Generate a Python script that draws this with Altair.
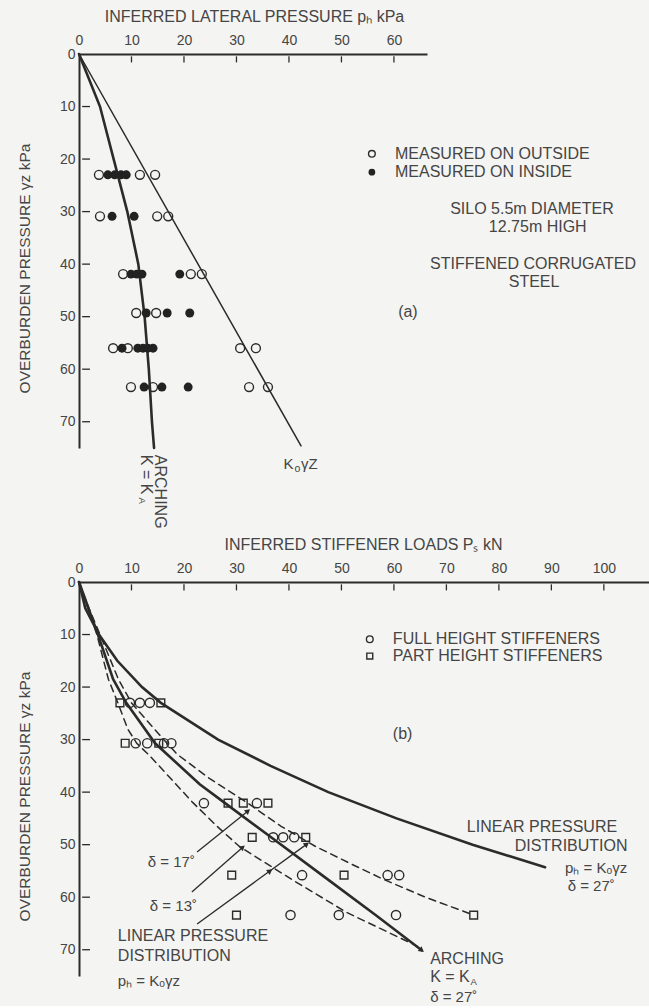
import math
import altair as alt
import pandas as pd

FONT = "Liberation Sans"
INK = "#2b2b2b"
TXT = "#454545"
BG = "#f4f4f2"

# ---------------- Panel (a): inferred lateral pressure ----------------
a_x_ticks = [0, 10, 20, 30, 40, 50, 60]
a_y_ticks = [0, 10, 20, 30, 40, 50, 60, 70]

a_out_z = [23, 23, 23, 30.9, 30.9, 30.9, 41.9, 41.9, 41.9, 49.3, 49.3,
           56, 56, 56, 56, 63.4, 63.4, 63.4, 63.4]
a_out_p = [3.8, 11.6, 14.5, 4.0, 14.9, 17.0, 8.4, 21.3, 23.4, 10.9, 14.7,
           6.5, 9.3, 30.7, 33.7, 9.9, 14.1, 32.4, 36.0]

a_in_z = [23, 23, 23, 23, 30.9, 30.9, 41.9, 41.9, 41.9, 41.9, 49.3, 49.3, 49.3,
          56, 56, 56, 56, 56, 63.4, 63.4, 63.4]
a_in_p = [5.5, 6.8, 8.0, 9.0, 6.3, 10.5, 9.9, 11.0, 12.0, 19.2, 12.8, 16.8, 21.1,
          8.2, 11.2, 12.2, 13.1, 14.1, 12.4, 15.8, 20.8]

a_ko_z = [0, 74.6]
a_ko_p = [0, 42.3]

a_arch_z = [0, 10, 20, 30, 40, 50, 60, 70, 75]
a_arch_p = [0, 4.0, 6.6, 9.2, 11.3, 12.5, 13.3, 13.9, 14.3]

# ---------------- Panel (b): inferred stiffener loads ----------------
b_x_ticks = [0, 10, 20, 30, 40, 50, 60, 70, 80, 90, 100]
b_y_ticks = [0, 10, 20, 30, 40, 50, 60, 70]

b_full_z = [23, 23, 23, 30.7, 30.7, 30.7, 30.7, 42.1, 42.1, 48.6, 48.6, 48.6,
            55.8, 55.8, 55.8, 63.4, 63.4, 63.4]
b_full_p = [9.7, 11.6, 13.5, 10.8, 13.0, 16.2, 17.6, 23.8, 33.9, 37.0, 38.9, 41.0,
            42.5, 58.8, 61.0, 40.3, 49.5, 60.4]

b_part_z = [23, 23, 30.7, 30.7, 42.1, 42.1, 42.1, 48.6, 48.6, 55.8, 55.8, 63.4, 63.4]
b_part_p = [7.8, 15.6, 8.8, 15.2, 28.4, 31.3, 36.0, 33.0, 43.2, 29.1, 50.5, 30.0, 75.2]

b_lin_z = [0, 5, 10, 15, 20, 23, 30, 35, 40, 45, 50, 54.3]
b_lin_p = [0, 1.2, 3.8, 7.3, 12.0, 15.6, 26.5, 36.5, 47.5, 60.5, 75.0, 88.8]

b_arch_z = [0, 5, 10, 18.5, 23, 30.7, 38.5, 42, 48.6, 55.8, 63.4, 70.1]
b_arch_p = [0, 1.8, 3.6, 6.5, 9.0, 14.5, 23.0, 27.7, 36.6, 46.3, 56.5, 65.3]

b_d13_z = [0, 5, 10, 18.5, 23, 28, 30.7, 33.1, 42, 46.5, 50.3, 56.6, 62.9, 69.3]
b_d13_p = [0, 1.7, 3.4, 5.6, 7.4, 9.3, 11.0, 13.5, 21.7, 26.3, 30.5, 40.5, 51.0, 64.4]

b_d17_z = [0, 5, 10, 18.5, 23, 28.6, 32.8, 37.5, 42, 46.5, 50.3, 53.5, 56.6, 60, 63.4]
b_d17_p = [0, 1.9, 4.0, 7.5, 10.0, 14.9, 18.7, 25.0, 32.0, 38.5, 45.0, 51.5, 58.0, 66.0, 75.2]

# annotation arrows (start -> head), panel (b)
arr_x1 = [22.5, 21.5, 22.5]
arr_y1 = [51.4, 59.0, 65.1]
arr_x2 = [32.2, 31.2, 43.4]
arr_y2 = [43.6, 50.5, 49.9]

# ---------------- helpers ----------------
YS = alt.Scale(domain=[0, 75], nice=False, zero=False, reverse=True)


def make_axes(xt, yt, xtitle, xtitle_x):
    ax = alt.Axis(orient="top", values=xt, title=xtitle, ticks=False, grid=False,
                  labelPadding=7, labelFlush=False, labelOverlap=False, labelBound=False,
                  domainWidth=2, domainColor=INK, labelFontSize=14, labelFont=FONT,
                  labelColor=TXT, titleFont=FONT, titleFontSize=16, titleFontWeight="normal",
                  titleColor=TXT, titleX=xtitle_x, titleY=-30, titleAlign="center",
                  titleBaseline="bottom")
    ay = alt.Axis(values=yt, title="OVERBURDEN PRESSURE γz kPa", ticks=False, grid=False,
                  labelPadding=4, labelFlush=False, labelOverlap=False, labelBound=False,
                  domainWidth=2, domainColor=INK, labelFontSize=14, labelFont=FONT,
                  labelColor=TXT, titleFont=FONT, titleFontSize=15.5, titleFontWeight="normal",
                  titleColor=TXT, titleAngle=270, titleX=-55, titleY=214, titleAlign="center",
                  titleBaseline="middle")
    return ax, ay


class Panel:
    def __init__(self, xs, ax, ay):
        self.xs, self.ax, self.ay = xs, ax, ay

    def X(self, f="x:Q"):
        return alt.X(f, scale=self.xs, axis=self.ax)

    def Y(self, f="y:Q"):
        return alt.Y(f, scale=YS, axis=self.ay)

    def enc(self, ch):
        return ch.encode(x=self.X(), y=self.Y())

    def line(self, df, width=2.2, dash=None):
        kw = dict(color=INK, strokeWidth=width, strokeCap="round")
        if dash:
            kw["strokeDash"] = dash
        return self.enc(alt.Chart(df).mark_line(**kw)).encode(order="i:Q")

    def open_pts(self, df, shape="circle", size=80):
        return self.enc(alt.Chart(df).mark_point(shape=shape, filled=False, size=size,
                                                 color=INK, strokeWidth=1.4, opacity=1))

    def full_pts(self, df, size=80):
        return self.enc(alt.Chart(df).mark_point(shape="circle", filled=True, size=size,
                                                 color="#222222", opacity=1))

    def texts(self, df, align):
        return alt.Chart(df).mark_text(align=align, baseline="middle", font=FONT,
                                       color=TXT).encode(
            x=self.X(), y=self.Y(), text="t:N",
            size=alt.Size("s:Q", scale=None, legend=None),
            angle=alt.Angle("a:Q", scale=None, legend=None))

    def ticks(self, xt, yt):
        dx = pd.DataFrame({"x": [v for v in xt if v > 0]})
        dx["y"] = 0.45
        dx["y2"] = 1.6
        dy = pd.DataFrame({"y": [v for v in yt if v > 0]})
        dy["x"] = 0.6
        dy["x2"] = 2.1
        r1 = alt.Chart(dx).mark_rule(color=INK, strokeWidth=1.3).encode(
            x=self.X(), y=self.Y(), y2="y2:Q")
        r2 = alt.Chart(dy).mark_rule(color=INK, strokeWidth=1.3).encode(
            y=self.Y(), x=self.X(), x2="x2:Q")
        return [r1, r2]

    def heads(self, xs_list, ys_list, angles):
        d = pd.DataFrame({"x": xs_list, "y": ys_list, "a": angles})
        return alt.Chart(d).mark_point(shape="triangle-up", filled=True, size=38,
                                       color=INK, opacity=1).encode(
            x=self.X(), y=self.Y(), angle=alt.Angle("a:Q", scale=None, legend=None))

    def rules(self, df):
        return alt.Chart(df).mark_rule(color=INK, strokeWidth=1.3).encode(
            x=self.X(), y=self.Y(), x2="x2:Q", y2="y2:Q")


def xy(xs, ys):
    d = pd.DataFrame({"x": xs, "y": ys})
    d["i"] = range(len(d))
    return d


def ann(rows):
    return pd.DataFrame(rows, columns=["t", "x", "y", "s", "a"])


def direction(x1, y1, x2, y2):
    # same pixel scale on both axes; y grows downward
    return math.degrees(math.atan2(x2 - x1, -(y2 - y1))) % 360


# ---------------- Panel (a) ----------------
XA = alt.Scale(domain=[0, 66.3], nice=False, zero=False)
PA = Panel(XA, *make_axes(a_x_ticks, a_y_ticks, "INFERRED LATERAL PRESSURE  pₕ kPa", 175))

a_ann_left = ann([
    ("MEASURED ON OUTSIDE", 60.2, 19.0, 16, 0),
    ("MEASURED ON INSIDE", 60.2, 22.5, 16, 0),
    ("(a)", 60.8, 49.1, 16, 0),
    ("ARCHING", 15.4, 76.3, 16, 90),
    ("K = K", 12.8, 76.3, 16, 90),
    ("A", 12.0, 84.4, 9.5, 90),
])
a_ann_center = ann([
    ("SILO 5.5m DIAMETER", 86.3, 29.5, 16, 0),
    ("12.75m HIGH", 87.4, 33.0, 16, 0),
    ("STIFFENED CORRUGATED", 86.5, 40.0, 16, 0),
    ("STEEL", 86.7, 43.4, 16, 0),
    ("K", 39.9, 78.1, 15, 0),
    ("o", 41.6, 79.0, 10.5, 0),
    ("γZ", 43.9, 78.1, 15, 0),
])

top = alt.layer(
    *PA.ticks(a_x_ticks, a_y_ticks),
    PA.line(xy(a_ko_p, a_ko_z), width=1.5),
    PA.line(xy(a_arch_p, a_arch_z), width=2.6),
    PA.open_pts(xy(a_out_p, a_out_z)),
    PA.full_pts(xy(a_in_p, a_in_z)),
    PA.open_pts(xy([55.8], [19.0]), size=45),
    PA.full_pts(xy([55.8], [22.5]), size=45),
    PA.texts(a_ann_left, "left"),
    PA.texts(a_ann_center, "center"),
).properties(width=348, height=394)

# ---------------- Panel (b) ----------------
XB = alt.Scale(domain=[0, 108.6], nice=False, zero=False)
PB = Panel(XB, *make_axes(b_x_ticks, b_y_ticks, "INFERRED STIFFENER LOADS Pₛ kN", 284))

b_ann_left = ann([
    ("FULL HEIGHT STIFFENERS", 59.8, 10.9, 16, 0),
    ("PART HEIGHT STIFFENERS", 59.8, 14.1, 16, 0),
    ("(b)", 59.8, 29.0, 16, 0),
    ("LINEAR PRESSURE", 73.9, 46.7, 16, 0),
    ("DISTRIBUTION", 83.0, 50.3, 16, 0),
    ("pₕ = Kₒγz", 92.6, 54.5, 15, 0),
    ("δ  = 27˚", 93.1, 57.9, 15, 0),
    ("ARCHING", 66.9, 71.8, 16, 0),
    ("K = K", 66.9, 75.2, 16, 0),
    ("A", 74.6, 76.1, 9.5, 0),
    ("δ  = 27˚", 66.9, 79.0, 15, 0),
    ("δ  = 17˚", 13.1, 53.3, 15, 0),
    ("δ  = 13˚", 13.5, 61.7, 15, 0),
    ("LINEAR PRESSURE", 7.4, 67.4, 16, 0),
    ("DISTRIBUTION", 7.4, 71.2, 16, 0),
    ("pₕ = Kₒγz", 7.4, 76.0, 15, 0),
])

arrows_df = pd.DataFrame({"x": arr_x1, "y": arr_y1, "x2": arr_x2, "y2": arr_y2})

head_x = arr_x2 + [36.4, b_arch_p[-1]]
head_y = arr_y2 + [55.0, b_arch_z[-1]]
head_a = [direction(a, b, c, d) for a, b, c, d in zip(arr_x1, arr_y1, arr_x2, arr_y2)]
head_a += [direction(arr_x1[2], arr_y1[2], arr_x2[2], arr_y2[2]),
           direction(b_arch_p[-2], b_arch_z[-2], b_arch_p[-1], b_arch_z[-1])]

bottom = alt.layer(
    *PB.ticks(b_x_ticks, b_y_ticks),
    PB.line(xy(b_lin_p, b_lin_z), width=2.6),
    PB.line(xy(b_arch_p, b_arch_z), width=2.6),
    PB.line(xy(b_d13_p, b_d13_z), width=1.5, dash=[7, 5]),
    PB.line(xy(b_d17_p, b_d17_z), width=1.5, dash=[7, 5]),
    PB.rules(arrows_df),
    PB.heads(head_x, head_y, head_a),
    PB.open_pts(xy(b_full_p, b_full_z), size=85),
    PB.open_pts(xy(b_part_p, b_part_z), shape="square", size=60),
    PB.open_pts(xy([55.4], [10.9]), size=45),
    PB.open_pts(xy([55.4], [14.1]), shape="square", size=35),
    PB.texts(b_ann_left, "left"),
).properties(width=570, height=394)

chart = alt.vconcat(top, bottom, spacing=134, bounds="flush").configure(
    background=BG,
    padding={"left": 17, "top": 8, "right": 0, "bottom": 0},
    font=FONT,
).configure_view(stroke=None)

chart.save("out.html", embed_options={"renderer": "svg", "actions": False})
